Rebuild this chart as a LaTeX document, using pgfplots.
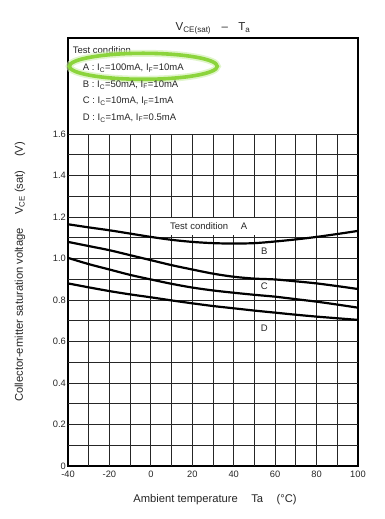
\documentclass[border=0pt]{standalone}
\usepackage{pgfplots}
\pgfplotsset{compat=1.18}
\usepackage{fontspec}
\setmainfont{Liberation Sans}
\definecolor{hlgreen}{RGB}{140,212,60}
\definecolor{hlglow}{RGB}{205,238,170}
\begin{document}
\begin{tikzpicture}
\begin{axis}[
  scale only axis, width=290pt, height=428pt,
  xmin=-40, xmax=100, ymin=0, ymax=2.0627,
  axis line style={line width=1.5pt},
  xtick={-40,-20,0,20,40,60,80,100},
  xticklabels={-40,-20,0,20,40,60,80,100},
  ytick={0,0.2,0.4,0.6,0.8,1.0,1.2,1.4,1.6},
  yticklabels={0,0.2,0.4,0.6,0.8,1.0,1.2,1.4,1.6},
  major tick length=0pt,
  tick label style={font=\fontsize{9.3}{10}\selectfont, text=black!85},
  xticklabel style={inner sep=1.5pt, yshift=-3.5pt},
  yticklabel style={inner sep=2pt},
  clip=false,
]
% grid
\pgfplotsinvokeforeach{0.1,0.2,0.3,0.4,0.5,0.6,0.7,0.8,0.9,1.0,1.1,1.2,1.3,1.4,1.5,1.6}{
  \draw[black!85, line width=0.95pt] (axis cs:-40,#1) -- (axis cs:100,#1);
}
\pgfplotsinvokeforeach{-30,-20,-10,0,10,20,30,40,50,60,70,80,90}{
  \draw[black!85, line width=0.95pt] (axis cs:#1,0) -- (axis cs:#1,1.6);
}
% white box behind inner label
\fill[white] (axis cs:0.6,1.113) rectangle (axis cs:51,1.196);

\addplot[black, line width=2.2pt, smooth] coordinates {
(-40,1.165) (-30,1.15) (-20,1.136) (-10,1.12) (0,1.104) (10,1.09) (20,1.08) (30,1.074) (40,1.072) (50,1.074) (60,1.082) (70,1.092) (80,1.104) (90,1.118) (100,1.133)};
\addplot[black, line width=2.2pt, smooth] coordinates {
(-40,1.08) (-30,1.06) (-20,1.04) (-10,1.016) (0,0.992) (10,0.968) (20,0.947) (30,0.927) (40,0.912) (50,0.903) (60,0.899) (70,0.89) (80,0.88) (90,0.867) (100,0.853)};
\addplot[black, line width=2.2pt, smooth] coordinates {
(-40,1.003) (-30,0.973) (-20,0.947) (-10,0.921) (0,0.899) (10,0.878) (20,0.86) (30,0.846) (40,0.835) (50,0.825) (60,0.816) (70,0.804) (80,0.792) (90,0.778) (100,0.763)};
\addplot[black, line width=2.2pt, smooth] coordinates {
(-40,0.88) (-30,0.861) (-20,0.843) (-10,0.827) (0,0.813) (10,0.798) (20,0.784) (30,0.771) (40,0.76) (50,0.749) (60,0.739) (70,0.729) (80,0.72) (90,0.712) (100,0.704)};

\coordinate (O) at (axis cs:-40,0);
\end{axis}
\begin{scope}[shift={(O)}, every node/.style={inner sep=0pt, text=black!85}]
  % title
  \node[font=\fontsize{11.5}{13}\selectfont] at (145pt,438pt)
    {V\textsubscript{CE(sat)}\hspace{0.9em}--\hspace{0.9em}T\textsubscript{a}};
  % axis labels
  \node[font=\fontsize{11.2}{13}\selectfont] at (147pt,-34pt)
    {Ambient temperature\hspace{1.2em}Ta\hspace{1.2em}(°C)};
  \node[font=\fontsize{11.2}{13}\selectfont, rotate=90] at (-48pt,194pt)
    {Collector-emitter saturation voltage\hspace{1.2em}V\textsubscript{CE} (sat)\hspace{1.2em}(V)};
  % test condition list
  \node[anchor=base west, font=\fontsize{9.5}{11}\selectfont] at (4.7pt,412pt) {Test condition};
  \draw[hlglow, line width=7pt, opacity=0.6] (75.3pt,399.7pt) ellipse [x radius=74pt, y radius=13pt];
  \draw[hlgreen, line width=3.6pt] (75.3pt,399.7pt) ellipse [x radius=74pt, y radius=13pt];
  \node[anchor=base west, font=\fontsize{9.5}{11}\selectfont] at (14.7pt,395pt) {A : I\textsubscript{C}=100mA, I\textsubscript{F}=10mA};
  \node[anchor=base west, font=\fontsize{9.5}{11}\selectfont] at (14.7pt,378.5pt) {B : I\textsubscript{C}=50mA, I\textsubscript{F}=10mA};
  \node[anchor=base west, font=\fontsize{9.5}{11}\selectfont] at (14.7pt,362pt) {C : I\textsubscript{C}=10mA, I\textsubscript{F}=1mA};
  \node[anchor=base west, font=\fontsize{9.5}{11}\selectfont] at (14.7pt,345.5pt) {D : I\textsubscript{C}=1mA, I\textsubscript{F}=0.5mA};
  % curve labels
  \node[anchor=base west, font=\fontsize{9.5}{11}\selectfont] at (102pt,236pt) {Test condition};
  \node[anchor=base west, font=\fontsize{9.5}{11}\selectfont] at (172.7pt,236pt) {A};
  \node[font=\fontsize{9.5}{11}\selectfont] at (196.3pt,215pt) {B};
  \node[font=\fontsize{9.5}{11}\selectfont] at (196.3pt,179.3pt) {C};
  \node[font=\fontsize{9.5}{11}\selectfont] at (196.3pt,137.7pt) {D};
\end{scope}
\pgfresetboundingbox
\path (O) ++(-68pt,-53pt) rectangle ++(385pt,519pt);
\end{tikzpicture}
\end{document}
